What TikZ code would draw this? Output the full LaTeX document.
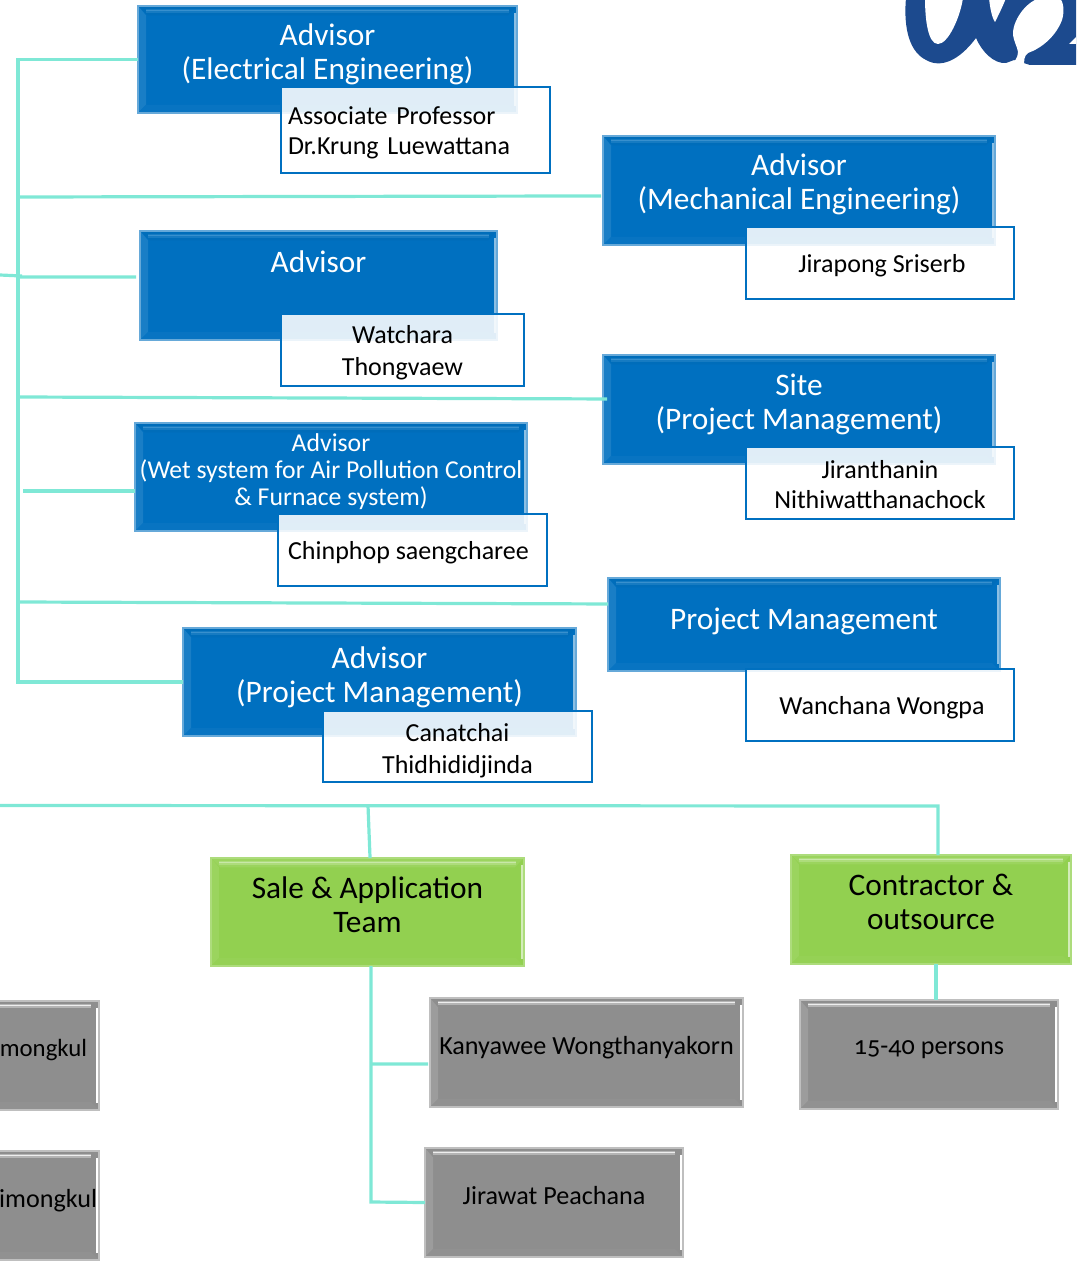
\documentclass[tikz,border=0pt]{standalone}
\usepackage{fontspec}
\setmainfont[Numbers=OldStyle]{Carlito}
\definecolor{linkcol}{HTML}{7FE8D6}
\definecolor{logocol}{HTML}{1C4A8E}
\definecolor{bluemain}{HTML}{0070C0}
\definecolor{greenmain}{HTML}{92D050}
\definecolor{graymain}{HTML}{8E8E8E}
\newcommand{\topstrut}[1]{\rule{0pt}{#1}}
\newcommand{\bevelfill}[5]{%
	\fill [#1]
		(path picture bounding box.north west) -- (path picture bounding box.north east)
		-- ([shift={(-7pt,-7pt)}]path picture bounding box.north east)
		-- ([shift={(7pt,-7pt)}]path picture bounding box.north west) -- cycle;
	\draw [#2, line width=3pt, opacity=0.4]
		([shift={(6pt,-3.5pt)}]path picture bounding box.north west)
		-- ([shift={(-6pt,-3.5pt)}]path picture bounding box.north east);
	\draw [#2, line width=1.2pt]
		([shift={(6pt,-3.5pt)}]path picture bounding box.north west)
		-- ([shift={(-6pt,-3.5pt)}]path picture bounding box.north east);
	\fill [#3]
		(path picture bounding box.north west) -- ([shift={(6pt,-7pt)}]path picture bounding box.north west)
		-- ([shift={(6pt,6pt)}]path picture bounding box.south west)
		-- (path picture bounding box.south west) -- cycle;
	\fill [#5]
		(path picture bounding box.north east) -- ([shift={(-6pt,-7pt)}]path picture bounding box.north east)
		-- ([shift={(-6pt,6pt)}]path picture bounding box.south east)
		-- (path picture bounding box.south east) -- cycle;
	\draw [#4, line width=2.2pt, opacity=0.4]
		([shift={(-1.5pt,-5pt)}]path picture bounding box.north east)
		-- ([shift={(-1.5pt,5pt)}]path picture bounding box.south east);
	\draw [#4, line width=1pt]
		([shift={(-1.5pt,-5pt)}]path picture bounding box.north east)
		-- ([shift={(-1.5pt,5pt)}]path picture bounding box.south east);
	\fill [#5!97!white]
		(path picture bounding box.south west) -- ([shift={(6pt,6pt)}]path picture bounding box.south west)
		-- ([shift={(-6pt,6pt)}]path picture bounding box.south east)
		-- (path picture bounding box.south east) -- cycle;
}
\tikzset{
	sized/.style 2 args={minimum width=#1*0.75pt, minimum height=#2*0.75pt},
	lift/.style={execute at end node={\rule[-#1]{0pt}{0pt}}},
	box/.style={rectangle, outer sep=0pt, inner sep=0pt, align=center, line width=0.8pt},
	bluebox/.style={box, draw=bluemain!60!white, fill=bluemain, text=white,
		font=\fontsize{23.5}{25.5}\selectfont,
		path picture={\bevelfill{bluemain!97!black}{bluemain!78!white}{bluemain!90!white}{bluemain!45!white}{bluemain}}},
	greenbox/.style={box, lift=11pt, draw=greenmain!75!white, fill=greenmain, text=black,
		font=\fontsize{23.5}{25.5}\selectfont,
		path picture={\bevelfill{greenmain!92!white}{greenmain!50!white}{greenmain!92!white}{greenmain!40!white}{greenmain}}},
	graybox/.style={box, lift=11pt, draw=gray!50!white, fill=graymain, text=black,
		font=\fontsize{19.6}{23}\selectfont,
		path picture={\bevelfill{graymain}{white!85!graymain}{graymain!88!white}{white}{graymain}}},
	namebox/.style={rectangle, outer sep=0pt, inner sep=0pt, align=center, draw=bluemain, line width=1.1pt,
		fill=white, fill opacity=0.88, text opacity=1, text=black,
		execute at begin node={\rule{0pt}{18pt}},
		font=\fontsize{19.5}{24}\selectfont},
	link/.style={draw=linkcol, line width=2.4pt},
}
\begin{document}
\begin{tikzpicture}[x=0.75pt, y=-0.75pt]
	\useasboundingbox (0,0) rectangle (1076,1269);
	\clip (0,0) rectangle (1076,1269);
	% advisors
	\node [bluebox, lift=12pt, sized={379}{107}] (elec) at (327.5,59.5) {Advisor\\(Electrical Engineering)};
	\node [bluebox, lift=13pt, sized={392}{109}] (mech) at (799,190.5) {Advisor\\(Mechanical Engineering)};
	\node [bluebox, lift=36pt, sized={357}{109}] (adv) at (318.5,285.5) {Advisor};
	\node [bluebox, lift=11pt, sized={392}{109}] (site) at (799,409.5) {Site\\(Project Management)};
	\node [bluebox, lift=11pt, sized={392}{108}, font=\fontsize{19.3}{20.3}\selectfont] (wet) at (331,477)
		{Advisor\\(Wet system for Air Pollution Control\\\& Furnace system)};
	\node [bluebox, lift=8pt, sized={392}{93}] (pm) at (804,624.5) {Project Management};
	\node [bluebox, lift=11pt, sized={393}{108}] (advpm) at (379.5,682) {Advisor\\(Project Management)};
	% names
	\node [namebox, sized={269}{86}, text width=255*0.75pt, align=left, font=\fontsize{19.5}{22.5}\selectfont] (krung) at (415.5,130)
		{Associate Professor\\Dr.Krung Luewattana};
	\node [namebox, sized={268}{72}] (jirapong) at (880,263) {\hspace*{3pt}Jirapong Sriserb};
	\node [namebox, sized={243}{72}] (watchara) at (402.5,350) {\topstrut{17.5pt}Watchara\\Thongvaew};
	\node [namebox, sized={268}{72}, font=\fontsize{19.5}{22.5}\selectfont] (jiran) at (880,483) {\topstrut{16.5pt}Jiranthanin\\Nithiwatthanachock};
	\node [namebox, sized={269}{72}] (chinphop) at (412.5,550) {\hspace*{-6pt}Chinphop saengcharee};
	\node [namebox, sized={268}{72}] (wanchana) at (880,705) {\hspace*{3pt}Wanchana Wongpa};
	\node [namebox, sized={269}{71}] (canatchai) at (457.5,746.5) {\topstrut{19.5pt}Canatchai\\Thidhididjinda};
	% teams
	\node [greenbox, sized={313}{108}] (sale) at (367.5,912) {Sale \& Application\\Team};
	\node [greenbox, sized={280}{109}] (contract) at (931,909.5) {Contractor \&\\outsource};
	\node [graybox, sized={139}{109}, font=\fontsize{18.6}{23}\selectfont] (grayone) at (29.5,1055.5) {\hspace*{21pt}mongkul};
	\node [graybox, sized={139}{109}] (graytwo) at (29.5,1205.5) {\hspace*{28pt}imongkul};
	\node [graybox, sized={313}{109}] (kanya) at (586.5,1052.5) {Kanyawee Wongthanyakorn};
	\node [graybox, sized={258}{109}] (jirawat) at (554,1202.5) {Jirawat Peachana};
	\node [graybox, sized={258}{109}] (persons) at (929,1054.5) {15-40 persons};
	% lines on the left
	\coordinate (trunktop) at (18,59.5);
	\coordinate (trunkbot) at (18,682);
	\coordinate (stub) at (0,275);
	\coordinate (stubend) at (22,276);
	\coordinate (jmech) at (18,197);
	\coordinate (jadv) at (18,277);
	\coordinate (jsite) at (18,397);
	\coordinate (jwet) at (23,491);
	\coordinate (jpm) at (18,602);
	\draw [link] (elec.west) -- (trunktop) -- (trunkbot) -- (advpm.west);
	\draw [link] (jmech) -- ([shift={(-1.5pt,-4.1pt)}]mech.west);
	\draw [link] (stub) -- (stubend);
	\draw [link] (jadv) -- ([shift={(-3pt,6.4pt)}]adv.west);
	\draw [link] (jsite) -- ([shift={(3pt,7.9pt)}]site.west);
	\draw [link] (jwet) -- ([yshift=-10.5pt]wet.west);
	\draw [link] (jpm) -- ([yshift=15.4pt]pm.west);
	% lines below
	\coordinate (busleft) at (0,805.5);
	\coordinate (busright) at (938,806);
	\coordinate (busmid) at (368,805.5);
	\coordinate (salebot) at (371,1202);
	\coordinate (salemid) at (371,1064);
	\draw [link] (busleft) -- (busright) -- ([xshift=5.25pt]contract.north);
	\draw [link] (busmid) -- ([xshift=1.9pt]sale.north);
	\draw [link] ([xshift=2.6pt]sale.south) -- (salebot) -- (jirawat.west);
	\draw [link] (salemid) -- ([shift={(-1.5pt,-8.6pt)}]kanya.west);
	\draw [link] ([xshift=3.75pt]contract.south) -- ([xshift=5.25pt]persons.north);
	% logo
	\fill [logocol] (906,-2) .. controls (904,20) and (906,50) .. (926,60)
		.. controls (940,68) and (958,62) .. (976,38)
		.. controls (982,52) and (994,64) .. (1006,63)
		-- (1014,60) -- (1030,65) -- (1076,65) -- (1076,-2) -- cycle;
	\fill [white] (925,-2) .. controls (925,20) and (928,44) .. (938,44)
		.. controls (948,44) and (960,18) .. (963,-2) -- cycle;
	\fill [white] (989,-2) .. controls (990,8) and (992,18) .. (995,22) .. controls (998,16) and (1003,6) .. (1006,-2) -- cycle;
	\fill [white] (1040,-2) .. controls (1025,2) and (1012,22) .. (1013,35)
		.. controls (1014,42) and (1017,46) .. (1018,52)
		.. controls (1018,58) and (1014,62) .. (1010,67) -- (1024,67)
		.. controls (1024,60) and (1024,56) .. (1028,53)
		.. controls (1042,48) and (1056,36) .. (1062,20)
		.. controls (1065,10) and (1063,2) .. (1060,-2) -- cycle;
	\fill [white] (1077,36) -- (1069,44) -- (1077,44) -- cycle;
\end{tikzpicture}
\end{document}
